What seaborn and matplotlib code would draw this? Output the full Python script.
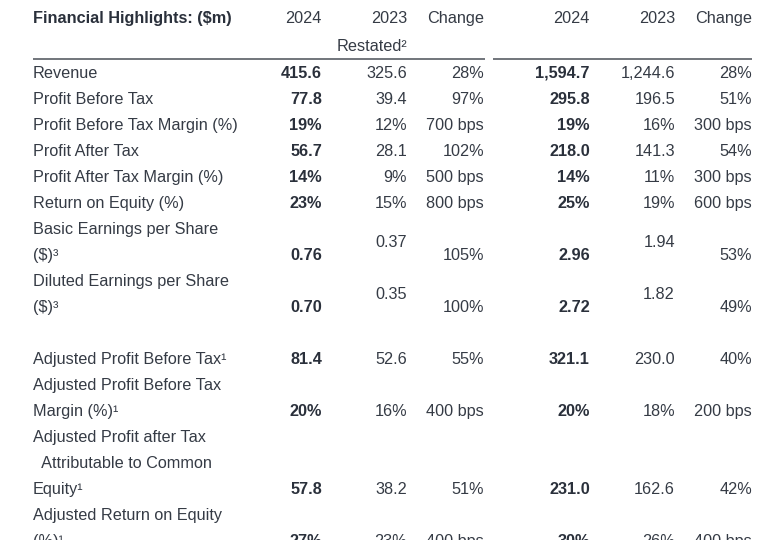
import numpy as np
import seaborn as sns
import matplotlib.pyplot as plt

# row labels (multi-line labels wrap as in the source table)
labels = ['Revenue', 'Profit Before Tax', 'Profit Before Tax Margin (%)',
          'Profit After Tax', 'Profit After Tax Margin (%)', 'Return on Equity (%)',
          'Basic Earnings per Share\n($)³', 'Diluted Earnings per Share\n($)³', '',
          'Adjusted Profit Before Tax¹', 'Adjusted Profit Before Tax\nMargin (%)¹',
          'Adjusted Profit after Tax\n  Attributable to Common\nEquity¹',
          'Adjusted Return on Equity\n(%)¹']

q4_2024 = ['415.6', '77.8', '19%', '56.7', '14%', '23%', '0.76', '0.70', '',
           '81.4', '20%', '57.8', '27%']
q4_2023 = ['325.6', '39.4', '12%', '28.1', '9%', '15%', '0.37', '0.35', '',
           '52.6', '16%', '38.2', '23%']
q4_change = ['28%', '97%', '700 bps', '102%', '500 bps', '800 bps', '105%', '100%', '',
             '55%', '400 bps', '51%', '400 bps']
fy_2024 = ['1,594.7', '295.8', '19%', '218.0', '14%', '25%', '2.96', '2.72', '',
           '321.1', '20%', '231.0', '30%']
fy_2023 = ['1,244.6', '196.5', '16%', '141.3', '11%', '19%', '1.94', '1.82', '',
           '230.0', '18%', '162.6', '26%']
fy_change = ['28%', '51%', '300 bps', '54%', '300 bps', '600 bps', '53%', '49%', '',
             '40%', '200 bps', '42%', '400 bps']

# rows whose prior-year figure sits between the two label lines
mid_rows = ['Basic Earnings per Share\n($)³', 'Diluted Earnings per Share\n($)³']

TEXT = '#353b45'
BOLD = '#2a303b'

sns.set_theme(style='white')
plt.rcParams['font.family'] = ['Liberation Sans', 'DejaVu Sans']

fig = plt.figure(figsize=(7.7, 5.4), dpi=100)
ax = fig.add_axes([0, 0, 1, 1])
ax.set_xlim(0, 770)
ax.set_ylim(540, 0)
ax.axis('off')
sns.despine(ax=ax, left=True, bottom=True)

fs = 11.7
base = 5  # baseline offset from the line centre

# header
ax.text(33, 18 + base, 'Financial Highlights: ($m)', fontsize=fs, fontweight='bold',
        color=BOLD, va='baseline')
for xr, h in zip([322, 407, 484, 590, 675, 752],
                 ['2024', '2023', 'Change', '2024', '2023', 'Change']):
    ax.text(xr, 18 + base, h, fontsize=fs, color=TEXT, ha='right', va='baseline')
ax.text(407, 46 + base, 'Restated²', fontsize=fs, color=TEXT, ha='right', va='baseline')
ax.hlines(59, 33, 485, color='#4a4f57', lw=1.1)
ax.hlines(59, 493, 752, color='#4a4f57', lw=1.1)

# body
line = 0
y0, step = 73, 26
for i, lab in enumerate(labels):
    parts = lab.split('\n')
    ys = [y0 + step * (line + k) for k in range(len(parts))]
    for p, y in zip(parts, ys):
        ax.text(33, y + base, p, fontsize=fs, color=TEXT, va='baseline')
    last = ys[-1]
    prior_y = (ys[0] + ys[-1]) / 2 if lab in mid_rows else last
    cols = [(322, q4_2024[i], True, last), (407, q4_2023[i], False, prior_y),
            (484, q4_change[i], False, last), (590, fy_2024[i], True, last),
            (675, fy_2023[i], False, prior_y), (752, fy_change[i], False, last)]
    for xr, val, bold, y in cols:
        ax.text(xr, y + base, val, fontsize=fs, ha='right', va='baseline',
                color=BOLD if bold else TEXT,
                fontweight='bold' if bold else 'normal')
    line += len(parts)

fig.savefig('out.png', dpi=100, facecolor='white')
